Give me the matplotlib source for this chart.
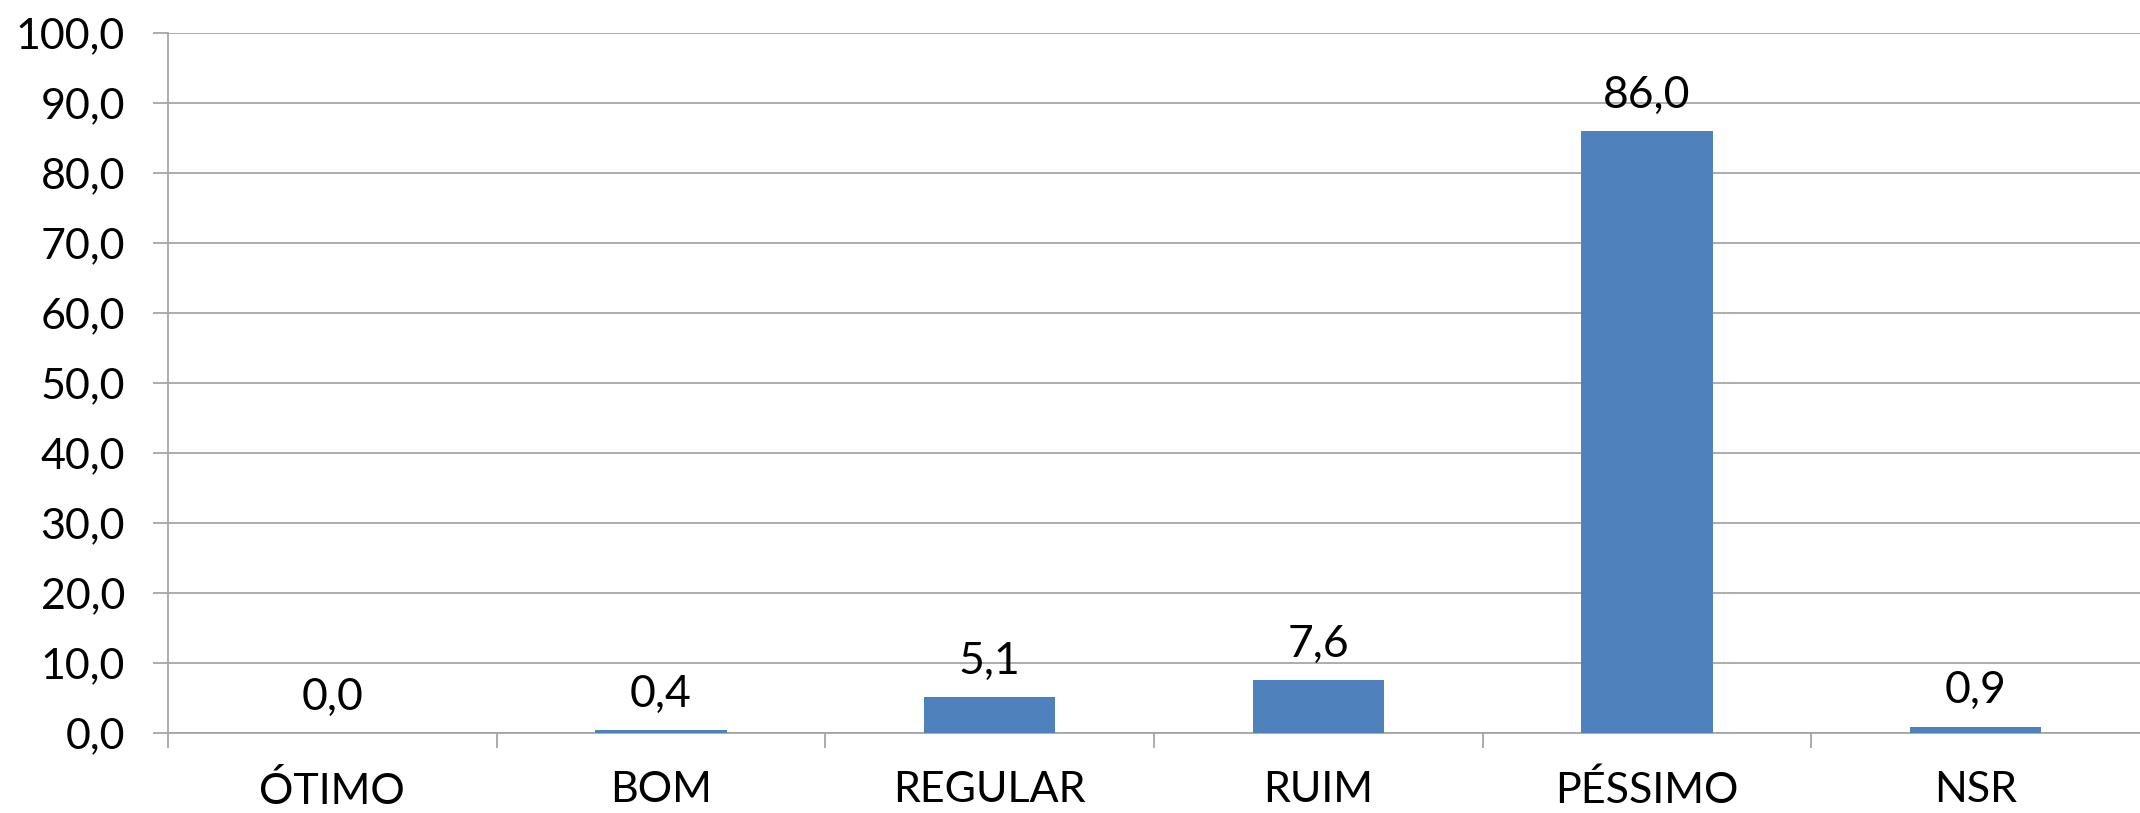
import matplotlib.pyplot as plt
from matplotlib.ticker import FixedLocator, FuncFormatter

categorias = ['ÓTIMO', 'BOM', 'REGULAR', 'RUIM', 'PÉSSIMO', 'NSR']
valores = [0.0, 0.4, 5.1, 7.6, 86.0, 0.9]
yticks = [0, 10, 20, 30, 40, 50, 60, 70, 80, 90, 100]

cor_barra = '#4F81BD'
cor_grade = '#A6A6A6'


def virgula(v, pos=None):
    return f'{v:.1f}'.replace('.', ',')


plt.rcParams['font.family'] = ['Lato', 'DejaVu Sans']

fig = plt.figure(figsize=(21.4, 8.13), dpi=100)
ax = fig.add_axes([168 / 2140, 1 - 733 / 813, 1 - 168 / 2140, 700 / 813])

x = list(range(len(categorias)))
ax.bar(x, valores, width=0.40, color=cor_barra, zorder=3)

# rótulos de dados
for xi, v in zip(x, valores):
    ax.annotate(virgula(v), (xi, v), xytext=(0, 11), textcoords='offset points',
                ha='center', va='bottom', fontsize=32, color='black')

ax.set_xlim(-0.5, len(categorias) - 0.5)
ax.set_ylim(0, 100)
ax.set_yticks(yticks)
ax.yaxis.set_major_formatter(FuncFormatter(virgula))
ax.grid(axis='y', color=cor_grade, linewidth=1.3, zorder=0)

ax.set_xticks(x)
ax.set_xticklabels(categorias)
ax.xaxis.set_minor_locator(FixedLocator([i - 0.5 for i in range(len(categorias))]))
ax.tick_params(axis='x', which='major', length=0, pad=27, labelsize=31)
ax.tick_params(axis='x', which='minor', length=11, width=1.3, color=cor_grade)
ax.tick_params(axis='y', length=11, width=1.3, color=cor_grade, pad=20, labelsize=31)

for lado in ['top', 'right']:
    ax.spines[lado].set_visible(False)
for lado in ['left', 'bottom']:
    ax.spines[lado].set_color(cor_grade)
    ax.spines[lado].set_linewidth(1.3)

fig.savefig('out.png', dpi=100)
